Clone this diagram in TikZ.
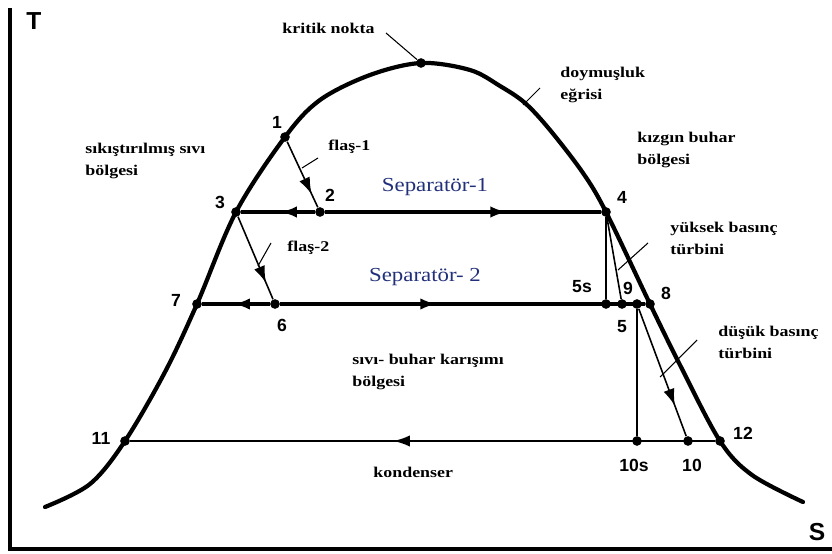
\documentclass[tikz,border=0pt]{standalone}
\usepackage{fontspec}
\setmainfont{Liberation Serif}
\setsansfont{Liberation Sans}
\usetikzlibrary{arrows.meta,decorations.markings}
\definecolor{sepblue}{HTML}{22307A}

\begin{document}
\begin{tikzpicture}[x=0.02cm, y=-0.02cm,
    dot/.style={circle, fill=black, inner sep=0pt, minimum size=5.5pt},
    num/.style={font=\sffamily\bfseries\fontsize{10}{12}\selectfont, inner sep=0pt},
    axlabel/.style={font=\sffamily\bfseries\fontsize{14}{16}\selectfont, inner sep=0pt},
    lbl/.style={font=\bfseries\fontsize{8.5}{12.5}\selectfont, align=left, anchor=west, xscale=1.2, inner sep=0pt},
    seplbl/.style={font=\fontsize{11.3}{13}\selectfont, text=sepblue, xscale=1.15, inner sep=0pt},
    dome/.style={line width=2.4pt, line join=round, line cap=round},
    sepline/.style={line width=1.8pt},
    condline/.style={line width=1.2pt},
    thinline/.style={line width=0.9pt},
    leader/.style={line width=0.6pt},
    midarrow/.style={postaction={decorate}, decoration={markings, mark=at position #1 with {\arrow{Latex[length=9.5pt,width=6.5pt]}}}},
]
\useasboundingbox (0,0) rectangle (832,554);

% axes
\draw[line width=2.2pt] (10,8) -- (10,549) -- (832,549);
\node[axlabel] (tlab) at (34,21) {T};
\node[axlabel] (slab) at (817,532) {S};

% state points
\node[dot] (crit) at (421,63) {};
\node[dot] (p1) at (285,137) {};
\node[dot] (p2) at (320,212) {};
\node[dot] (p3) at (236,212) {};
\node[dot] (p4) at (606,212) {};
\node[dot] (p7) at (197,304) {};
\node[dot] (p6) at (275,304) {};
\node[dot] (p5s) at (606,304) {};
\node[dot] (p5) at (622,304) {};
\node[dot] (p9) at (637,304) {};
\node[dot] (p8) at (650,304) {};
\node[dot] (p11) at (125,441) {};
\node[dot] (p10s) at (637,441) {};
\node[dot] (p10) at (688,441) {};
\node[dot] (p12) at (720,441) {};

% saturation dome
\draw[dome] plot[smooth, tension=0.55] coordinates {(45,507) (90,484) (p11.center) (165,372) (p7.center) (p3.center) (p1.center) (320,100) (370,75) (crit.center) (470,70) (500,86) (525,103) (550,130) (583,173) (p4.center) (p8.center) (680,365) (p12.center) (752,475) (803,502)};

% separators and flashing
\draw[sepline, midarrow=0.47] (p2) -- (p3);
\draw[sepline, midarrow=0.66] (p2) -- (p4);
\draw[thinline, midarrow=0.8] (p1) -- (p2);
\draw[thinline, midarrow=0.8] (p3) -- (p6);
\draw[sepline, midarrow=0.54] (p6) -- (p7);
\draw[sepline, midarrow=0.43] (p6) -- (p8);

% turbines and condenser
\draw[thinline] (p4) -- (p5s);
\draw[thinline] (p4) -- (p5);
\draw[thinline] (p9) -- (p10s);
\draw[thinline, midarrow=0.76] (p9) -- (p10);
\draw[condline, midarrow=0.55] (p12) -- (p11);

% point numbers
\node[num] at (277,122) {1};
\node[num] at (330,195) {2};
\node[num] at (220,202) {3};
\node[num] at (622,197) {4};
\node[num] at (582,287) {5s};
\node[num] at (628,288) {9};
\node[num] at (666,293) {8};
\node[num] at (622,327) {5};
\node[num] at (176,300) {7};
\node[num] at (282,325) {6};
\node[num] at (101,438) {11};
\node[num] at (634,465) {10s};
\node[num] at (692,465) {10};
\node[num] at (743,433) {12};

% region and process labels
\node[lbl] (kritik) at (282,28) {kritik nokta};
\node[lbl] (doyma) at (560,85) {doymuşluk\\eğrisi};
\node[lbl] (kizgin) at (637,150) {kızgın buhar\\bölgesi};
\node[lbl] (yuksek) at (670,238) {yüksek basınç\\türbini};
\node[lbl] (dusuk) at (718,342) {düşük basınç\\türbini};
\node[lbl] (sikis) at (85,161) {sıkıştırılmış sıvı\\bölgesi};
\node[lbl] (karis) at (352,372) {sıvı- buhar karışımı\\bölgesi};
\node[lbl] (kond) at (373,472) {kondenser};
\node[lbl] (flas1) at (328,147) {flaş-1};
\node[lbl] (flas2) at (287,248) {flaş-2};
\node[seplbl] (sep1) at (435,187) {Separatör-1};
\node[seplbl] (sep2) at (425,277) {Separatör- 2};

% leader lines
\coordinate (kn) at (386,33);
\draw[leader] (kn) -- (crit);
\draw[leader] (540,88) -- (523,105);
\draw[leader] (648,243) -- (618,270);
\draw[leader] (697,340) -- (660,377);
\draw[leader] (318,158) -- (302,168);
\draw[leader] (271,243) -- (258,266);
\end{tikzpicture}
\end{document}
